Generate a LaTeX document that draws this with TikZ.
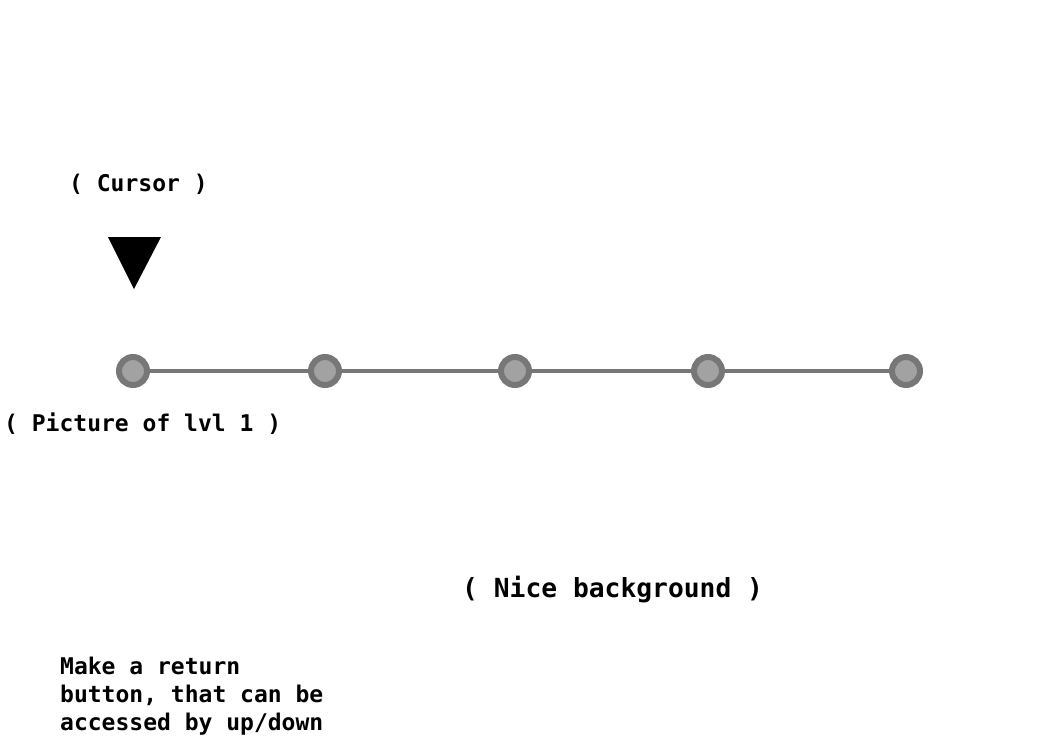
\documentclass[tikz,border=0pt]{standalone}
\usepackage{fontspec}
\setmonofont{DejaVu Sans Mono}
\begin{document}
\begin{tikzpicture}[x=1pt,y=-1pt,
  lvl/.style={circle,draw=lvlouter,fill=lvlinner,line width=6pt,minimum size=28pt,inner sep=0pt},
  txt/.style={font=\ttfamily\bfseries\fontsize{23}{28}\selectfont,inner sep=0pt,anchor=west},
  bigtxt/.style={font=\ttfamily\bfseries\fontsize{26.3}{30}\selectfont,inner sep=0pt,anchor=west},
  link/.style={draw=lvlouter,line width=4pt}]
\definecolor{lvlouter}{HTML}{777777}
\definecolor{lvlinner}{HTML}{A2A2A2}
\useasboundingbox (0,0) rectangle (1050,750);
\fill[white] (0,0) rectangle (1050,750);
\node[lvl] (l1) at (133,371) {};
\node[lvl] (l2) at (325,371) {};
\node[lvl] (l3) at (515,371) {};
\node[lvl] (l4) at (708,371) {};
\node[lvl] (l5) at (906,371) {};
\path[link] (l1) -- (l2) (l2) -- (l3) (l3) -- (l4) (l4) -- (l5);
\fill[black] (108,237) -- (161,237) -- (134,289) -- cycle;
\node[txt] (cursor) at (69,184) {( Cursor )};
\node[txt] (pic) at (4,424) {( Picture of lvl 1 )};
\node[bigtxt] (bg) at (462,590) {( Nice background )};
\node[txt,align=left,anchor=north west] (ret) at (60,657) {Make a return\\button, that can be\\accessed by up/down};
\end{tikzpicture}
\end{document}
